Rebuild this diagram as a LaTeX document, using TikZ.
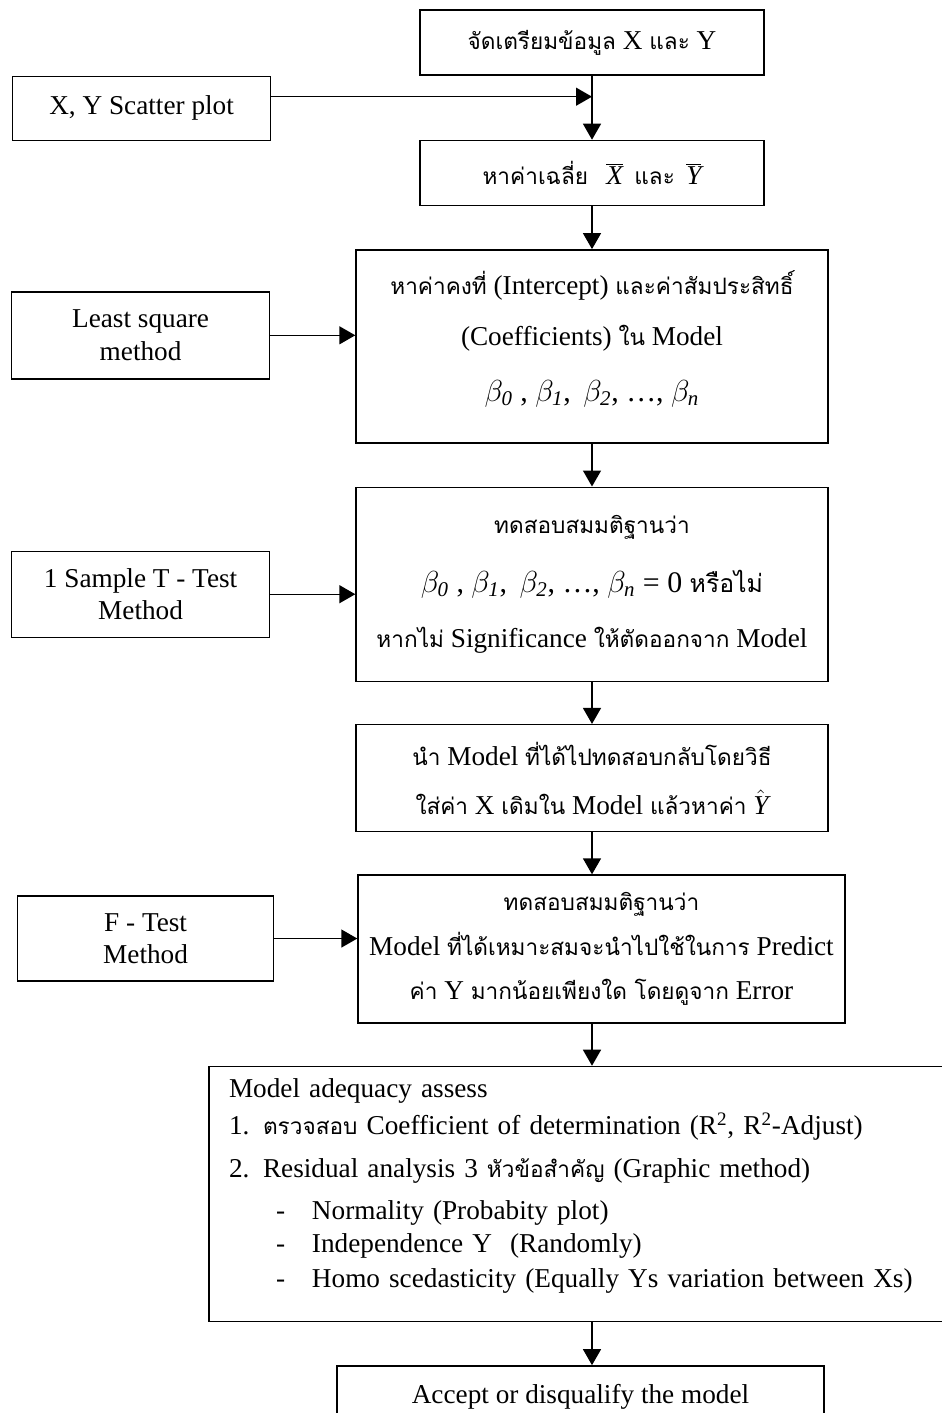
\documentclass[tikz,border=0pt]{standalone}
\usepackage{fontspec}
\setmainfont{Liberation Serif}
\newfontfamily\thaifont[Script=Thai, Scale=0.83]{Loma}
\newcommand{\thai}[1]{{\thaifont #1}}
\newcommand{\betafont}{\fontsize{17}{20}\selectfont}
\usepackage{tikz}
\usetikzlibrary{arrows.meta,
  positioning,
  calc}

\begin{document}
\begin{tikzpicture}[node distance=0.86cm, font=\fontsize{15.5}{18.5}\selectfont]
    % Define styles for nodes and arrows
    \tikzstyle{mainbox} = [rectangle, minimum width=9.44cm, text centered, align=center, draw=black, line width=0.8pt, inner sep=0pt]
    \tikzstyle{sidebox} = [rectangle, minimum width=5.16cm, text centered, align=center, draw=black, line width=0.8pt, inner sep=0pt]
    \tikzstyle{listbox} = [rectangle, minimum width=14.8cm, minimum height=5.10cm, text width=14.0cm, align=left, draw=black, line width=0.8pt, inner xsep=0.4cm]
    % Arrows with a filled head
    \tikzstyle{arrow} = [line width=0.8pt, ->, >={Triangle[length=0.32cm, width=0.36cm]}]
    \useasboundingbox (0,0) rectangle (18.82,-28.26);
    % Nodes
    \node (prep) [mainbox, minimum width=6.88cm, minimum height=1.30cm] at (11.84,-0.85) {\thai{จัดเตรียมข้อมูล} X \thai{และ} Y};
    \node (mean) [mainbox, minimum width=6.88cm, minimum height=1.30cm, below=1.28cm of prep] {\thai{หาค่าเฉลี่ย}\ \ \,$\overline{\textit{X}}$\, \thai{และ}\, $\overline{\textit{Y}}$};
    \node (coef) [mainbox, minimum height=3.86cm, below=of mean] {\thai{หาค่าคงที่} (Intercept) \thai{และค่าสัมประสิทธิ์}\\[11pt]
        (Coefficients) \thai{ใน} Model\\[13pt]
        {\betafont $\beta_{\mathit{0}}$ , $\beta_{\mathit{1}}$, \,$\beta_{\mathit{2}}$, \dots, $\beta_{\mathit{n}}$}\rule[-12pt]{0pt}{12pt}};
    \node (sigtest) [mainbox, minimum height=3.88cm, below=of coef] {\thai{ทดสอบสมมติฐานว่า}\\[15pt]
        {\betafont $\beta_{\mathit{0}}$ , $\beta_{\mathit{1}}$, \,$\beta_{\mathit{2}}$, \dots, $\beta_{\mathit{n}}$ = 0 \thai{หรือไม่}}\\[13pt]
        \thai{หากไม่} Significance \thai{ให้ตัดออกจาก} Model};
    \node (refit) [mainbox, minimum height=2.14cm, below=0.84cm of sigtest] {\thai{นำ} Model \thai{ที่ได้ไปทดสอบกลับโดยวิธี}\\[9.5pt]
        \thai{ใส่ค่า} X \thai{เดิมใน} Model \thai{แล้วหาค่า} $\hat{\textit{Y}}$};
    \node (fit) [mainbox, minimum width=9.74cm, minimum height=2.96cm, below=0.84cm of refit, xshift=0.19cm] {\thai{ทดสอบสมมติฐานว่า}\\[7pt]
        Model \thai{ที่ได้เหมาะสมจะนำไปใช้ในการ} Predict\\[7pt]
        \thai{ค่า} Y \thai{มากน้อยเพียงใด โดยดูจาก} Error};
    \node (adequacy) [listbox, below=0.84cm of fit, xshift=-0.45cm] {Model adequacy assess\\[2.5pt]
        1. \thai{ตรวจสอบ} Coefficient of determination (R\textsuperscript{2}, R\textsuperscript{2}-Adjust)\\[6pt]
        2. Residual analysis 3 \thai{หัวข้อสำคัญ} (Graphic method)\\[5.5pt]
        \hspace*{0.94cm}\makebox[0.72cm][l]{-}Normality (Probabity plot)\\
        \hspace*{0.94cm}\makebox[0.72cm][l]{-}Independence Y\ \ (Randomly)\\[1.5pt]
        \hspace*{0.94cm}\makebox[0.72cm][l]{-}Homo scedasticity (Equally Ys variation between Xs)\rule[-12.5pt]{0pt}{12.5pt}};
    \node (verdict) [mainbox, minimum width=9.74cm, minimum height=1.24cm, below=of adequacy, xshift=0.03cm] {Accept or disqualify the model};
    % Side inputs
    \node (scatter) [sidebox, minimum height=1.28cm, left=2.96cm of prep.south west, anchor=north east] {X, Y Scatter plot};
    \node (lsq) [sidebox, minimum height=1.74cm, left=1.70cm of coef, yshift=0.22cm] {Least square\\ method};
    \node (sample) [sidebox, minimum height=1.72cm, left=1.70cm of sigtest, yshift=-0.2cm] {1 Sample T - Test\\ Method};
    \node (ftest) [sidebox, minimum width=5.12cm, minimum height=1.70cm, left=1.66cm of fit, yshift=0.21cm] {F - Test\\ Method};
    \coordinate (merge) at ($(prep.south)+(0,-0.42)$);
    % Arrows (connections)
    \draw [arrow] (prep) -- (mean);
    \draw [arrow] (scatter.east |- merge) -- (merge);
    \draw [arrow] (mean) -- (coef);
    \draw [arrow] (lsq.east) -- (lsq.east -| coef.west);
    \draw [arrow] (coef) -- (sigtest);
    \draw [arrow] (sample.east) -- (sample.east -| sigtest.west);
    \draw [arrow] (sigtest) -- (refit);
    \draw [arrow] (refit.south) -- (refit.south |- fit.north);
    \draw [arrow] (ftest.east) -- (ftest.east -| fit.west);
    \draw [arrow] (fit.south -| refit) -- (adequacy.north -| refit);
    \draw [arrow] (adequacy.south -| refit) -- (verdict.north -| refit);
\end{tikzpicture}
\end{document}
